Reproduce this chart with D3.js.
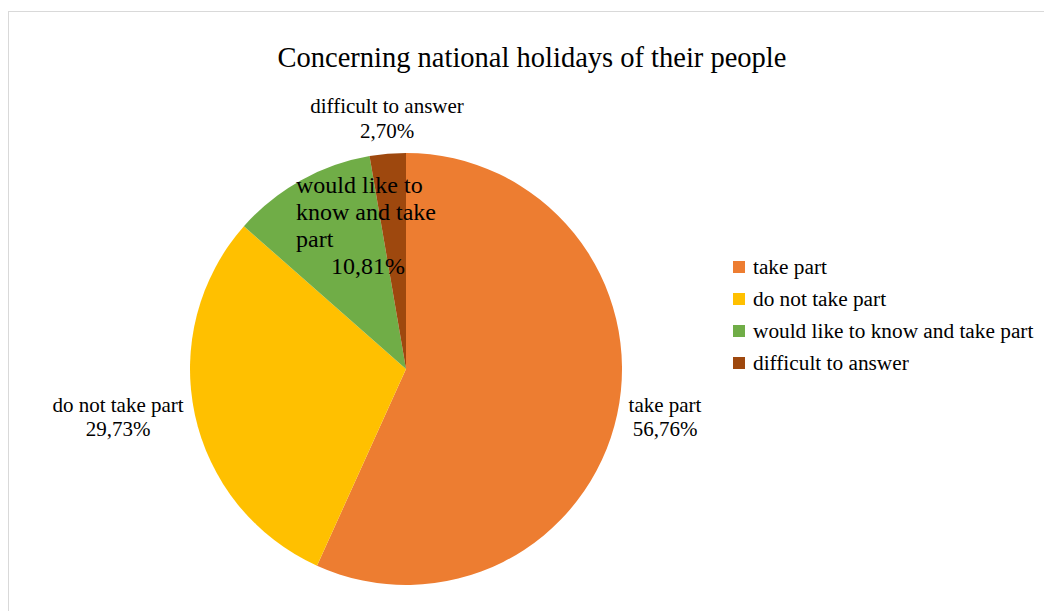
<!DOCTYPE html>
<html>
<head>
<meta charset="utf-8">
<script src="https://cdn.jsdelivr.net/npm/d3@7"></script>
<style>
  html, body { margin: 0; padding: 0; background: #fff; }
  svg { display: block; }
  svg text { font-family: "Liberation Serif", "Times New Roman", serif; }
</style>
</head>
<body>
<svg id="chart" width="1044" height="611"></svg>
<script>
// Survey answers: attitude to the national holidays of their people
const categories = ["take part", "do not take part", "would like to know and take part", "difficult to answer"];
const shares = [56.76, 29.73, 10.81, 2.70];
const colors = ["#ED7D31", "#FFC000", "#70AD47", "#9E480E"];
const title = "Concerning national holidays of their people";

// Category text lines of each data label (wrapped as in the chart)
const labelLines = [
  ["take part"],
  ["do not take part"],
  ["would like to", "know and take", "part"],
  ["difficult to answer"]
];

const W = 1044, H = 611;
const cx = 406, cy = 369, radius = 216;
const serif = "Liberation Serif";
const fmt = v => d3.format(".2f")(v).replace(".", ",") + "%";

const svg = d3.select("#chart");

// Chart-area frame
svg.append("rect")
  .attr("x", 8.5).attr("y", 11.5)
  .attr("width", W).attr("height", H)
  .attr("fill", "#fff")
  .attr("stroke", "#d9d9d9").attr("stroke-width", 1);

// Title
svg.append("text")
  .attr("x", 532).attr("y", 67)
  .attr("text-anchor", "middle")
  .attr("font-family", serif)
  .attr("font-size", 28.5)
  .attr("fill", "#000")
  .text(title);

// Pie, clockwise from 12 o'clock in data order
const color = d3.scaleOrdinal().domain(categories).range(colors);
const pie = d3.pie().sort(null).value(d => d.value);
const arcs = pie(categories.map((c, i) => ({ name: c, value: shares[i], lines: labelLines[i] })));
const arc = d3.arc().innerRadius(0).outerRadius(radius);

const g = svg.append("g").attr("transform", `translate(${cx},${cy})`);
g.selectAll("path.slice")
  .data(arcs)
  .join("path")
  .attr("class", "slice")
  .attr("d", arc)
  .attr("fill", d => color(d.data.name));

// Data labels: anchor point relative to pie centre, font size, line height,
// line alignment and (for left-aligned labels) the centre of the value line
const labelLayout = [
  { dx: 259, dy: 43, size: 21, lh: 24, align: "middle" },
  { dx: -288, dy: 43, size: 21, lh: 24, align: "middle" },
  { dx: -110, dy: -176, size: 24, lh: 27, align: "start", valueX: -38 },
  { dx: -19, dy: -256, size: 21, lh: 25, align: "middle" }
];

arcs.forEach((a, i) => {
  const L = labelLayout[i];
  const t = g.append("text")
    .attr("font-family", serif)
    .attr("font-size", L.size)
    .attr("fill", "#000");
  a.data.lines.forEach((line, k) => {
    t.append("tspan")
      .attr("x", L.dx).attr("y", L.dy + k * L.lh)
      .attr("text-anchor", L.align)
      .text(line);
  });
  const n = a.data.lines.length;
  t.append("tspan")
    .attr("x", L.align === "start" ? L.valueX : L.dx)
    .attr("y", L.dy + n * L.lh)
    .attr("text-anchor", "middle")
    .text(fmt(a.data.value));
});

// Legend
const legend = svg.append("g").attr("transform", "translate(733,267)");
const items = legend.selectAll("g")
  .data(categories)
  .join("g")
  .attr("transform", (d, i) => `translate(0,${i * 32})`);
items.append("rect")
  .attr("x", 0).attr("y", -6)
  .attr("width", 12).attr("height", 12)
  .attr("fill", d => color(d));
items.append("text")
  .attr("x", 20).attr("y", 7)
  .attr("font-family", serif)
  .attr("font-size", 21.3)
  .attr("fill", "#000")
  .text(d => d);
</script>
</body>
</html>
